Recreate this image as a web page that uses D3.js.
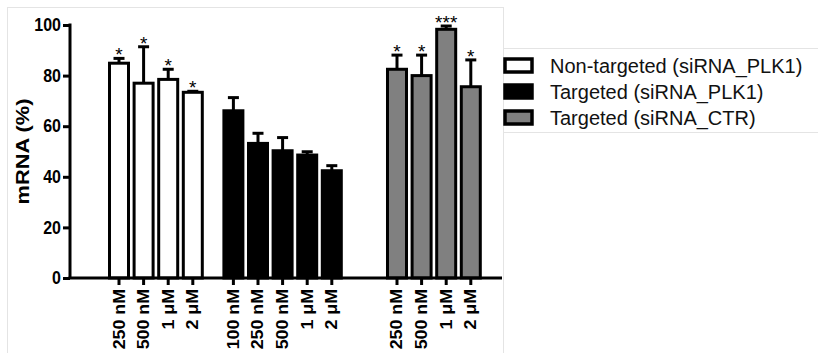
<!DOCTYPE html>
<html><head><meta charset="utf-8">
<script src="https://cdn.jsdelivr.net/npm/d3@7"></script>
<style>body{margin:0;background:#fff}svg{display:block}text{font-family:"Liberation Sans",Arial,sans-serif}</style>
</head><body>
<svg id="c" width="818" height="353"></svg>
<script>
const groupNames = ["Non-targeted (siRNA_PLK1)", "Targeted (siRNA_PLK1)", "Targeted (siRNA_CTR)"];
const groupFills = ["#ffffff", "#000000", "#808080"];
const labels1 = ["250 nM", "500 nM", "1 \u03BCM", "2 \u03BCM"];
const values1 = [84.9, 77.0, 78.5, 73.4];
const errors1 = [1.9, 14.4, 4.0, 0.4];
const signif1 = ["*", "*", "*", "*"];
const labels2 = ["100 nM", "250 nM", "500 nM", "1 \u03BCM", "2 \u03BCM"];
const values2 = [66.1, 53.2, 50.3, 48.6, 42.4];
const errors2 = [5.2, 4.0, 5.2, 1.3, 2.0];
const signif2 = ["", "", "", "", ""];
const labels3 = ["250 nM", "500 nM", "1 \u03BCM", "2 \u03BCM"];
const values3 = [82.5, 80.0, 98.3, 75.6];
const errors3 = [5.6, 8.1, 1.3, 10.6];
const signif3 = ["*", "*", "***", "*"];
const yTicks = [0, 20, 40, 60, 80, 100];

const svg = d3.select("#c");
// faint frame lines
const faint = "#e4e4e4";
svg.append("rect").attr("x", 7.5).attr("y", 7.5).attr("width", 496).attr("height", 360).attr("fill", "none").attr("stroke", faint);
svg.append("line").attr("x1", 503).attr("x2", 818).attr("y1", 48.5).attr("y2", 48.5).attr("stroke", faint);
svg.append("line").attr("x1", 503).attr("x2", 818).attr("y1", 132.5).attr("y2", 132.5).attr("stroke", faint);

const groupOffsets = [0, 4.65, 11.3];
const bars = [];
[[labels1, values1, errors1, signif1], [labels2, values2, errors2, signif2], [labels3, values3, errors3, signif3]]
  .forEach(([lab, val, err, sig], g) => {
    lab.forEach((l, i) => bars.push({g, label: l, value: val[i], err: err[i], sig: sig[i], slot: groupOffsets[g] + i}));
  });

const x = d3.scaleLinear().domain([0, 14.3]).range([119, 470.8]);
const y = d3.scaleLinear().domain([0, 100]).range([278, 25]);
const bw = 19;

// bars
svg.append("g").selectAll("rect").data(bars).join("rect")
  .attr("x", d => x(d.slot) - bw / 2).attr("width", bw)
  .attr("y", d => y(d.value)).attr("height", d => y(0) - y(d.value))
  .attr("fill", d => groupFills[d.g]).attr("stroke", "#000").attr("stroke-width", 3);

// error bars
const eb = svg.append("g").attr("stroke", "#000").attr("stroke-width", 3);
eb.selectAll("line.v").data(bars).join("line").attr("class", "v")
  .attr("x1", d => x(d.slot)).attr("x2", d => x(d.slot))
  .attr("y1", d => y(d.value)).attr("y2", d => y(d.value + d.err));
eb.selectAll("line.h").data(bars).join("line").attr("class", "h")
  .attr("x1", d => x(d.slot) - 5.5).attr("x2", d => x(d.slot) + 5.5)
  .attr("y1", d => y(d.value + d.err)).attr("y2", d => y(d.value + d.err));

// significance
svg.append("g").selectAll("text").data(bars.filter(d => d.sig)).join("text")
  .attr("x", d => x(d.slot)).attr("y", d => y(d.value + d.err) + 3)
  .attr("text-anchor", "middle").attr("font-size", 19).text(d => d.sig);

// y axis
const yAxis = svg.append("g").attr("transform", "translate(70,0)")
  .call(d3.axisLeft(y).tickValues(yTicks).tickSize(7).tickPadding(2).tickSizeOuter(0));
yAxis.select(".domain").attr("stroke-width", 3).attr("d", `M0,${y(100) - 1.5}V${y(0)}`);
yAxis.selectAll(".tick line").attr("stroke-width", 3);
yAxis.selectAll(".tick text").attr("font-size", 16).attr("font-weight", "bold").attr("font-family", "Liberation Sans, Arial, sans-serif").attr("fill", "#000")
  .attr("transform", "scale(1,1.12)").attr("y", function() { return 0; });

// x baseline
svg.append("line").attr("x1", 68.5).attr("x2", 502).attr("y1", y(0)).attr("y2", y(0)).attr("stroke", "#000").attr("stroke-width", 3);
// x ticks and labels
const xt = svg.append("g").selectAll("g").data(bars).join("g").attr("transform", d => `translate(${x(d.slot)},${y(0)})`);
xt.append("line").attr("y1", 0).attr("y2", 7).attr("stroke", "#000").attr("stroke-width", 3);
xt.append("text").attr("transform", "translate(5.5,11) rotate(-90) scale(1.08,1)").attr("text-anchor", "end")
  .attr("font-size", 16.5).attr("font-weight", "bold").text(d => d.label);

// y title
svg.append("text").attr("transform", `translate(29,${y(50)}) rotate(-90) scale(1.15,1)`).attr("text-anchor", "middle")
  .attr("font-size", 19).attr("font-weight", "bold").text("mRNA (%)");

// legend
const lg = svg.append("g").selectAll("g").data(groupNames).join("g")
  .attr("transform", (d, i) => `translate(505,${59 + i * 26})`);
lg.append("rect").attr("width", 27).attr("height", 13).attr("fill", (d, i) => groupFills[i]).attr("stroke", "#000").attr("stroke-width", 3.5);
lg.append("text").attr("x", 45).attr("y", 14).attr("font-size", 20).attr("fill", "#111").text(d => d);
</script>
</body></html>
